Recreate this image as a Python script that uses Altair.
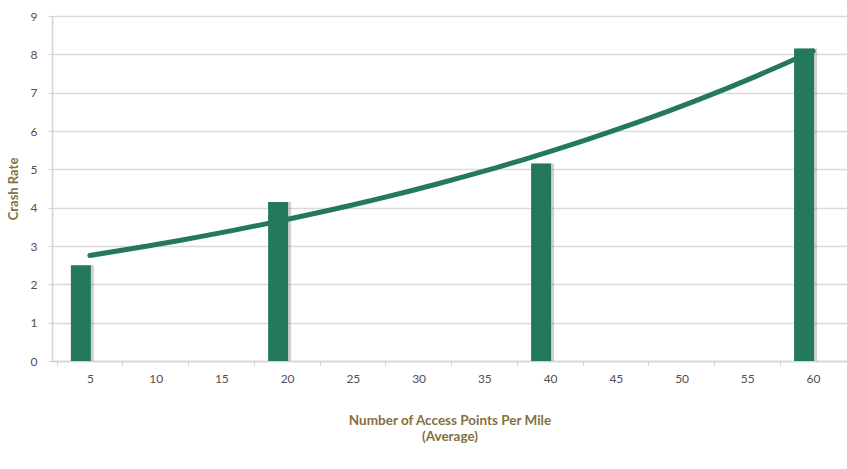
import altair as alt
import pandas as pd

# Data
access_points = [5, 20, 40, 60]
crash_rate = [2.5, 4.15, 5.15, 8.15]
x_tick_values = [5, 10, 15, 20, 25, 30, 35, 40, 45, 50, 55, 60]
y_tick_values = [0, 1, 2, 3, 4, 5, 6, 7, 8, 9]
x_title = ["Number of Access Points Per Mile", "(Average)"]
y_title = "Crash Rate"

df = pd.DataFrame({"x": access_points, "y": crash_rate})

W, H = 795, 345
x_domain = [2.5, 62.2]
band_px = W / (x_domain[1] - x_domain[0]) * 5

xscale = alt.Scale(domain=x_domain, nice=False, zero=False)
yscale = alt.Scale(domain=[0, 9], nice=False)

FONT = "Lato"
LABEL_COLOR = "#505050"
TITLE_COLOR = "#84703f"
GREEN = "#23795a"

x_axis = alt.Axis(
    values=x_tick_values,
    tickOffset=-band_px / 2,
    labelOffset=band_px / 2,
    grid=False,
    domainColor="#d4d4d4",
    domainWidth=1.5,
    tickColor="#d4d4d4",
    tickSize=5,
    labelPadding=7,
    labelFont=FONT,
    labelFontSize=12,
    labelColor=LABEL_COLOR,
    labelOverlap=False,
    title=x_title,
    titleFont=FONT,
    titleFontSize=13.5,
    titleFontWeight="bold",
    titleColor=TITLE_COLOR,
    titlePadding=29,
    titleLineHeight=16,
)

y_axis = alt.Axis(
    values=y_tick_values,
    tickCount=10,
    grid=True,
    gridColor="#dadada",
    gridWidth=1.5,
    domainColor="#d4d4d4",
    domainWidth=1.5,
    tickColor="#d4d4d4",
    tickSize=4,
    labelPadding=11,
    labelFont=FONT,
    labelFontSize=12,
    labelColor=LABEL_COLOR,
    labelOverlap=False,
    title=y_title,
    titleFont=FONT,
    titleFontSize=13,
    titleFontWeight="bold",
    titleColor=TITLE_COLOR,
    titlePadding=10,
)

base = alt.Chart(df).encode(
    x=alt.X("x:Q", scale=xscale, axis=x_axis),
    y=alt.Y("y:Q", scale=yscale, axis=y_axis),
)

shadow = base.mark_bar(size=20, xOffset=-6, color="#7a7a7a", opacity=0.35)

bars = base.mark_bar(size=20, xOffset=-9, color=GREEN)

trend = base.transform_regression(
    "x", "y", method="exp", extent=[5, 60]
).mark_line(color=GREEN, strokeWidth=5, strokeCap="round")

chart = alt.layer(shadow, bars, trend).properties(
    width=W,
    height=H,
    autosize=alt.AutoSizeParams(type="none"),
    padding={"left": 52, "top": 16, "right": 0, "bottom": 108},
).configure_view(stroke=None).configure(background="white")

chart.save("out.html", embed_options={"renderer": "svg", "actions": False})
